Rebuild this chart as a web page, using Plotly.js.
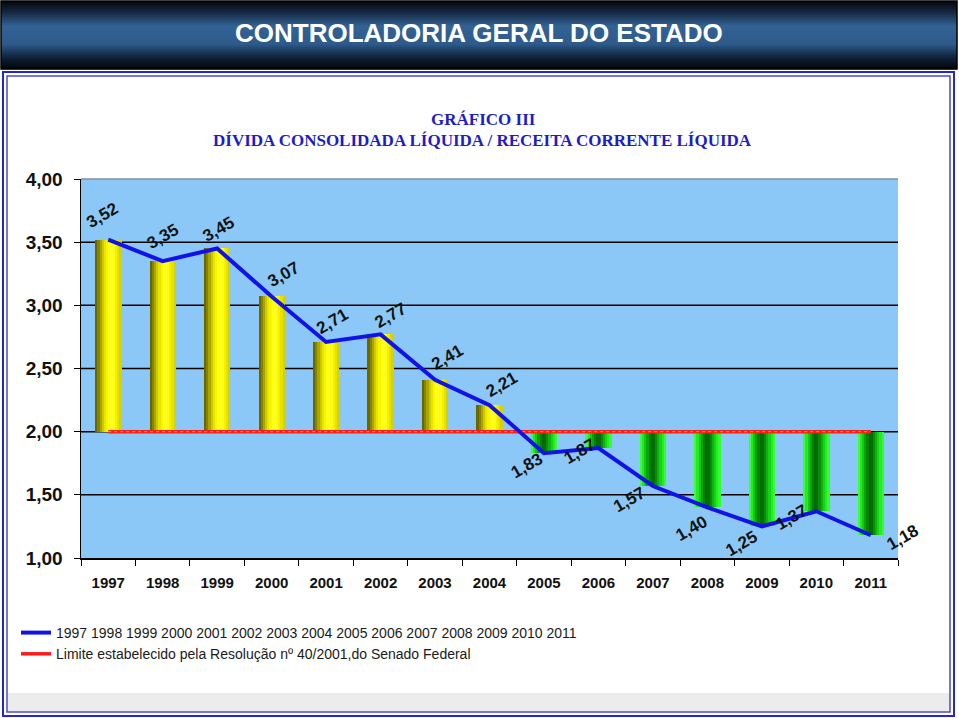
<!DOCTYPE html>
<html>
<head>
<meta charset="utf-8">
<script src="https://cdn.plot.ly/plotly-3.0.1.min.js"></script>
<style>
  html, body { margin: 0; padding: 0; background: #ffffff; }
  #chart { width: 959px; height: 718px; }
</style>
</head>
<body>
<div id="chart"></div>
<script>
// ---------------- data ----------------
const years = ['1997','1998','1999','2000','2001','2002','2003','2004','2005','2006','2007','2008','2009','2010','2011'];
const ratio = [3.52, 3.35, 3.45, 3.07, 2.71, 2.77, 2.41, 2.21, 1.83, 1.87, 1.57, 1.40, 1.25, 1.37, 1.18];
const limitValues = [2.00, 2.00, 2.00, 2.00, 2.00, 2.00, 2.00, 2.00, 2.00, 2.00, 2.00, 2.00, 2.00, 2.00, 2.00];
const yTickValues = [1.0, 1.5, 2.0, 2.5, 3.0, 3.5, 4.0];
const headerText = 'CONTROLADORIA GERAL DO ESTADO';
const titleLine1 = 'GRÁFICO III';
const titleLine2 = 'DÍVIDA CONSOLIDADA LÍQUIDA / RECEITA CORRENTE LÍQUIDA';
const lineSeriesName = '1997 1998 1999 2000 2001 2002 2003 2004 2005 2006 2007 2008 2009 2010 2011';
const limitSeriesName = 'Limite estabelecido pela Resolução nº 40/2001,do Senado Federal';

// ---------------- styling ----------------
// label offsets (pixels) relative to each point
const labelDx = [-6, 0, 1, 12, 6, 10, 12, 12, -17, -19, -23, -16, -20, -25, 32];
const labelDy = [-24, -25, -19, -22, -20, -19, -22, -21, 12, 3, 14, 21, 17, 6, 2];

const W = 959, H = 718;
const M = { l: 81, r: 61, t: 179, b: 160 };
const PW = W - M.l - M.r, PH = H - M.t - M.b;
const px2x = p => (p - M.l) / PW;
const py2y = p => (H - M.b - p) / PH;

const yellowStrips = ['#6a6600','#878300','#aaa600','#cdc900','#e8e400','#f8f500','#ffff12','#ffff22','#fffb12','#f4f000','#e6e200','#d6d100'];
const greenStrips  = ['#3cff3c','#27e827','#14c814','#0aa40a','#058205','#036a03','#046e04','#098c09','#10b010','#18d218','#22ee22','#30ff30'];

const barWidth = 0.48;
const nStrips = yellowStrips.length;
const stripW = barWidth / nStrips;

const traces = [];
for (let s = 0; s < nStrips; s++) {
  traces.push({
    type: 'bar',
    x: years,
    y: ratio.map((v, i) => v - limitValues[i]),
    base: limitValues,
    width: stripW + 0.004,
    offset: -barWidth / 2 + s * stripW,
    marker: { color: ratio.map((v, i) => v >= limitValues[i] ? yellowStrips[s] : greenStrips[s]), line: { width: 0 } },
    showlegend: false,
    hoverinfo: 'skip'
  });
}
traces.push({
  type: 'scatter', mode: 'lines', x: years, y: limitValues,
  name: limitSeriesName, legendrank: 2,
  line: { color: '#ff1a1a', width: 3.5 }
});
traces.push({
  type: 'scatter', mode: 'lines', x: years, y: limitValues,
  showlegend: false, hoverinfo: 'skip',
  line: { color: '#ffb400', width: 1, dash: 'dot' }
});
traces.push({
  type: 'scatter', mode: 'lines', x: years, y: ratio,
  name: lineSeriesName, legendrank: 1,
  line: { color: '#1212e8', width: 4 }
});

// shapes
const shapes = [];
// header gradient
const stops = [[1,[4,6,12]],[12,[20,40,66]],[26,[50,98,148]],[44,[46,90,138]],[58,[16,32,54]],[69,[2,4,8]]];
function colAt(py) {
  for (let k = 0; k < stops.length - 1; k++) {
    const [a, ca] = stops[k], [b, cb] = stops[k + 1];
    if (py >= a && py <= b) {
      const t = (py - a) / (b - a);
      return 'rgb(' + ca.map((c, j) => Math.round(c + (cb[j] - c) * t)).join(',') + ')';
    }
  }
  return 'rgb(2,4,8)';
}
for (let py = 1; py < 69; py += 2) {
  shapes.push({ type: 'rect', xref: 'paper', yref: 'paper', x0: px2x(1), x1: px2x(957), y0: py2y(py + 2.3), y1: py2y(py),
    fillcolor: colAt(py + 1), line: { width: 0 }, layer: 'below' });
}
shapes.push({ type: 'rect', xref: 'paper', yref: 'paper', x0: px2x(1), x1: px2x(957), y0: py2y(69), y1: py2y(1),
  line: { color: '#000000', width: 1.5 }, layer: 'above' });
// faint bottom band
shapes.push({ type: 'rect', xref: 'paper', yref: 'paper', x0: px2x(8), x1: px2x(950), y0: py2y(711), y1: py2y(693),
  fillcolor: '#ececec', line: { width: 0 }, layer: 'below' });
// frame
shapes.push({ type: 'rect', xref: 'paper', yref: 'paper', x0: px2x(3), x1: px2x(954), y0: py2y(716), y1: py2y(72),
  line: { color: '#2626d0', width: 2 }, layer: 'above' });
shapes.push({ type: 'rect', xref: 'paper', yref: 'paper', x0: px2x(7), x1: px2x(950), y0: py2y(712), y1: py2y(76),
  line: { color: '#4a4ad0', width: 1.5 }, layer: 'above' });
// grid lines (interior ticks)
yTickValues.slice(1, -1).forEach(v => {
  shapes.push({ type: 'line', xref: 'paper', yref: 'y', x0: 0, x1: 1, y0: v, y1: v,
    line: { color: '#000000', width: 1.5 }, layer: 'below' });
});
// plot top edge
shapes.push({ type: 'line', xref: 'paper', yref: 'paper', x0: 0, x1: 1, y0: 1, y1: 1,
  line: { color: '#8090a0', width: 1.5 }, layer: 'below' });

// annotations
const annotations = [];
annotations.push({ xref: 'paper', yref: 'paper', x: px2x(479), y: py2y(33), text: headerText, showarrow: false,
  xanchor: 'center', yanchor: 'middle',
  font: { family: 'Liberation Sans, Arial, sans-serif', size: 26, color: '#ffffff', weight: 'bold' } });
annotations.push({ xref: 'paper', yref: 'paper', x: px2x(483), y: py2y(120), text: titleLine1, showarrow: false,
  xanchor: 'center', yanchor: 'middle', borderpad: 0,
  font: { family: 'Liberation Serif, Times New Roman, serif', size: 17, color: '#1c1cc8', weight: 'bold' } });
annotations.push({ xref: 'paper', yref: 'paper', x: px2x(482), y: py2y(140), text: titleLine2, showarrow: false,
  xanchor: 'center', yanchor: 'middle', borderpad: 0,
  font: { family: 'Liberation Serif, Times New Roman, serif', size: 17, color: '#1c1cc8', weight: 'bold' } });
ratio.forEach((v, i) => {
  annotations.push({ x: i, y: v, xref: 'x', yref: 'y', showarrow: false,
    text: v.toFixed(2).replace('.', ','), textangle: -30,
    xshift: labelDx[i], yshift: -labelDy[i], xanchor: 'center', yanchor: 'middle',
    font: { family: 'Liberation Sans, Arial, sans-serif', size: 17, color: '#111111', weight: 'bold' } });
});

const layout = {
  width: W, height: H,
  margin: M,
  paper_bgcolor: '#ffffff',
  plot_bgcolor: '#8bc8f8',
  separators: ',.',
  barmode: 'overlay',
  bargap: 0,
  showlegend: true,
  legend: {
    x: px2x(16), y: py2y(617), xanchor: 'left', yanchor: 'top',
    bgcolor: 'rgba(0,0,0,0)', borderwidth: 0,
    font: { family: 'Liberation Sans, Arial, sans-serif', size: 14, color: '#1a1a1a' },
    itemwidth: 30, traceorder: 'normal'
  },
  xaxis: {
    type: 'category', range: [-0.5, 14.5], fixedrange: true,
    showgrid: false, showline: true, linecolor: '#000000', linewidth: 1.5,
    ticks: 'outside', ticklen: 6, tickcolor: '#000000', tickwidth: 1, tickson: 'boundaries',
    ticklabelstandoff: 10,
    tickfont: { family: 'Liberation Sans, Arial, sans-serif', size: 15, color: '#111111', weight: 'bold' }
  },
  yaxis: {
    range: [1, 4], tickvals: yTickValues, tickformat: '.2f', fixedrange: true,
    showgrid: false, zeroline: false, showline: true, linecolor: '#000000', linewidth: 1.5,
    ticks: 'outside', ticklen: 6, tickcolor: '#000000', tickwidth: 1,
    ticklabelstandoff: 7,
    tickfont: { family: 'Liberation Sans, Arial, sans-serif', size: 19, color: '#111111', weight: 'bold' }
  },
  shapes: shapes,
  annotations: annotations
};

Plotly.newPlot('chart', traces, layout, { displayModeBar: false, staticPlot: true });
</script>
</body>
</html>
